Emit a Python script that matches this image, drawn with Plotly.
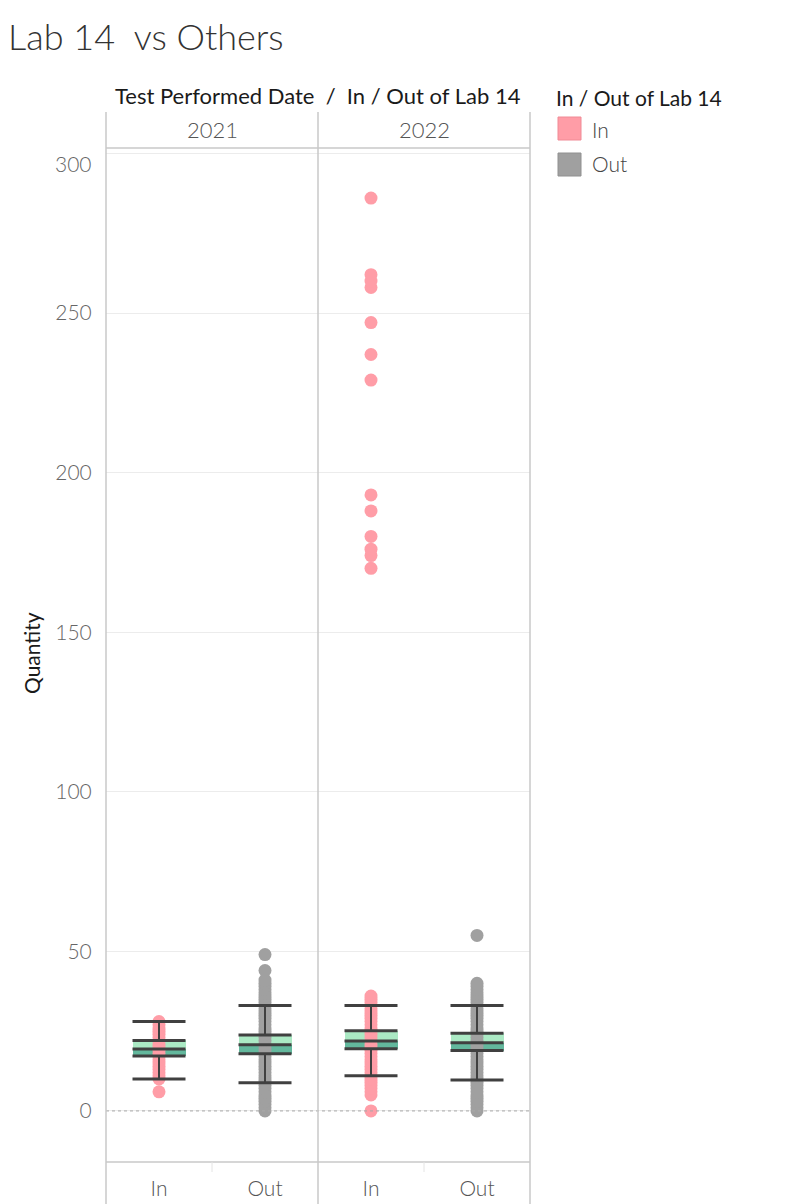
import plotly.graph_objects as go

# ---------------- data ----------------
years = ["2021", "2022"]
groups = ["In", "Out"]

# box statistics per (year, group): order 2021-In, 2021-Out, 2022-In, 2022-Out
q1 = [17.2, 17.9, 19.5, 18.9]
median = [19.4, 20.7, 21.9, 21.4]
q3 = [22.1, 23.8, 25.1, 24.3]
lower_whisker = [10.0, 8.8, 11.0, 9.7]
upper_whisker = [28.0, 33.0, 33.0, 33.0]

# individual observations (quantities)
pts_2021_in = [6, 10, 11, 12, 13, 14, 15, 16, 17, 18, 19, 20, 21, 22, 23, 24, 25, 26, 27, 28]
pts_2021_out = [0, 1, 2, 3, 4, 5, 6, 7, 8, 9, 10, 11, 12, 13, 14, 15, 16, 17, 18, 19,
                20, 21, 22, 23, 24, 25, 26, 27, 28, 29, 30, 31, 32, 33, 34, 35, 36, 37,
                38, 39, 40, 41, 44, 49]
pts_2022_in = [0, 5, 6, 7, 8, 9, 10, 11, 12, 13, 14, 15, 16, 17, 18, 19, 20, 21, 22, 23,
               24, 25, 26, 27, 28, 29, 30, 31, 32, 33, 34, 35, 36,
               170, 174, 176, 180, 188, 193, 229, 237, 247, 258, 260, 262, 286]
pts_2022_out = [0, 1, 2, 3, 4, 5, 6, 7, 8, 9, 10, 11, 12, 13, 14, 15, 16, 17, 18, 19,
                20, 21, 22, 23, 24, 25, 26, 27, 28, 29, 30, 31, 32, 33, 34, 35, 36, 37,
                38, 39, 40, 55]
points = [pts_2021_in, pts_2021_out, pts_2022_in, pts_2022_out]

y_ticks = [0, 50, 100, 150, 200, 250, 300]

# ---------------- styles ----------------
group_colors = {"In": "#FF9DA7", "Out": "#A0A0A0"}
light_green = "rgba(120,220,160,0.62)"
dark_green = "rgba(25,150,110,0.68)"
line_dark = "#404040"
border = "#c8c8c8"
FONT = "Lato"

labels = [(y, g) for y in years for g in groups]
xpos = [i + 0.5 for i in range(len(labels))]
half = 0.25

fig = go.Figure()

# points
for (yr, g), x, vals in zip(labels, xpos, points):
    fig.add_trace(go.Scatter(
        x=[x] * len(vals), y=vals, mode="markers",
        marker=dict(size=13, color=group_colors[g], line=dict(width=0)),
        showlegend=False, hoverinfo="y"))

# box halves
fig.add_trace(go.Bar(x=xpos, base=q1, y=[m - a for m, a in zip(median, q1)],
                     width=2 * half, marker=dict(color=dark_green, line=dict(width=0)),
                     showlegend=False))
fig.add_trace(go.Bar(x=xpos, base=median, y=[b - m for b, m in zip(q3, median)],
                     width=2 * half, marker=dict(color=light_green, line=dict(width=0)),
                     showlegend=False))

# horizontal lines: caps, box top/bottom, median
hx, hy = [], []
for x, lo, a, m, b, hi in zip(xpos, lower_whisker, q1, median, q3, upper_whisker):
    for v in (lo, a, m, b, hi):
        hx += [x - half, x + half, None]
        hy += [v, v, None]
fig.add_trace(go.Scatter(x=hx, y=hy, mode="lines", line=dict(color=line_dark, width=3),
                         showlegend=False, hoverinfo="skip"))
# whisker stems
vx, vy = [], []
for x, lo, a, b, hi in zip(xpos, lower_whisker, q1, q3, upper_whisker):
    vx += [x, x, None, x, x, None]
    vy += [lo, a, None, b, hi, None]
fig.add_trace(go.Scatter(x=vx, y=vy, mode="lines", line=dict(color=line_dark, width=2),
                         showlegend=False, hoverinfo="skip"))

# ---------------- layout ----------------
# the page body has an 8px margin, so the figure is laid out in page
# coordinates shifted by OFF
OFF = 8
PAGE_W, PAGE_H = 800, 1204
W, H = PAGE_W - OFF, PAGE_H - OFF
plot_l, plot_r, plot_t, plot_b = 106, 530, 148, 1162  # page pixels
ml, mt = plot_l - OFF, plot_t - OFF
pw, ph = plot_r - plot_l, plot_b - plot_t
mr, mb = W - ml - pw, H - mt - ph


def px_x(px):
    return (px - plot_l) / pw


def px_y(py):
    return (plot_b - py) / ph


shapes = []
# zero reference line
shapes.append(dict(type="line", xref="paper", yref="y", x0=0, x1=1, y0=0, y1=0,
                   line=dict(color="#a8a8a8", width=1, dash="dot")))
# pane borders (vertical) extending through header and bottom category row
for xp in (0, 0.5, 1):
    shapes.append(dict(type="line", xref="paper", yref="paper", x0=xp, x1=xp,
                       y0=px_y(PAGE_H + 4), y1=px_y(112), line=dict(color=border, width=1.5)))
# header bottom line and plot bottom line
for yp in (1.0, 0.0):
    shapes.append(dict(type="line", xref="paper", yref="paper", x0=0, x1=1,
                       y0=yp, y1=yp, line=dict(color=border, width=1.5)))
# small separators between categories in bottom row
for xp in (0.25, 0.75):
    shapes.append(dict(type="line", xref="paper", yref="paper", x0=xp, x1=xp,
                       y0=px_y(1162), y1=px_y(1172), line=dict(color="#e4e4e4", width=1)))
# legend swatches
shapes.append(dict(type="rect", xref="paper", yref="paper", x0=px_x(558), x1=px_x(581),
                   y0=px_y(140), y1=px_y(117), fillcolor="#FF9DA7",
                   line=dict(color="#f08a95", width=1)))
shapes.append(dict(type="rect", xref="paper", yref="paper", x0=px_x(558), x1=px_x(581),
                   y0=px_y(176), y1=px_y(153), fillcolor="#A0A0A0",
                   line=dict(color="#909090", width=1)))

tick_font = dict(family=FONT, size=21, color="#666", weight=300)

annotations = [
    dict(text="Test Performed Date  /  In / Out of Lab 14", xref="paper", yref="paper",
         x=px_x(318), y=px_y(95), showarrow=False, xanchor="center", yanchor="middle",
         font=dict(family=FONT, size=22, color="#1a1a1a")),
    dict(text="Quantity", xref="paper", yref="paper", x=px_x(31), y=px_y(653),
         textangle=-90, showarrow=False, xanchor="center", yanchor="middle",
         font=dict(family=FONT, size=21, color="#1a1a1a")),
    dict(text="In / Out of Lab 14", xref="paper", yref="paper", x=px_x(554), y=px_y(97),
         showarrow=False, xanchor="left", yanchor="middle",
         font=dict(family=FONT, size=21, color="#1a1a1a")),
    dict(text="In", xref="paper", yref="paper", x=px_x(590), y=px_y(129),
         showarrow=False, xanchor="left", yanchor="middle",
         font=dict(family=FONT, size=21, color="#444", weight=300)),
    dict(text="Out", xref="paper", yref="paper", x=px_x(590), y=px_y(164),
         showarrow=False, xanchor="left", yanchor="middle",
         font=dict(family=FONT, size=21, color="#444", weight=300)),
    # top tick label is nudged inside the pane, as in the original
    dict(text=str(y_ticks[-1]), xref="paper", yref="y", x=px_x(94), y=y_ticks[-1],
         yshift=-10, showarrow=False, xanchor="right", yanchor="middle",
         font=tick_font),
]
for i, yr in enumerate(years):
    annotations.append(dict(text=yr, xref="paper", yref="paper", x=0.25 + 0.5 * i,
                            y=px_y(130), showarrow=False, xanchor="center",
                            yanchor="middle",
                            font=dict(family=FONT, size=22, color="#555", weight=300)))

fig.update_layout(
    width=W, height=H,
    margin=dict(l=ml, r=mr, t=mt, b=mb, pad=0, autoexpand=False),
    paper_bgcolor="white", plot_bgcolor="white",
    barmode="overlay", bargap=0,
    showlegend=False,
    title=dict(text="Lab 14  vs Others", xref="container", yref="container",
               x=0, xanchor="left", y=1 - (37 - OFF) / H, yanchor="middle",
               pad=dict(l=0, r=0, t=0, b=0),
               font=dict(family=FONT, size=36, color="#333", weight=300)),
    xaxis=dict(range=[0, len(labels)], tickvals=xpos, ticktext=[g for _, g in labels],
               showgrid=False, zeroline=False, showline=False,
               ticks="outside", ticklen=8, tickcolor="rgba(0,0,0,0)",
               tickfont=dict(family=FONT, size=21, color="#555", weight=300),
               fixedrange=True),
    yaxis=dict(range=[-16, 301.7], tickvals=y_ticks,
               ticktext=[str(v) for v in y_ticks[:-1]] + [""],
               showgrid=True, gridcolor="#ececec",
               gridwidth=1, zeroline=False, showline=False,
               ticks="outside", ticklen=9, tickcolor="rgba(0,0,0,0)",
               tickfont=tick_font, fixedrange=True),
    shapes=shapes,
    annotations=annotations,
)

fig.write_html("out.html")
